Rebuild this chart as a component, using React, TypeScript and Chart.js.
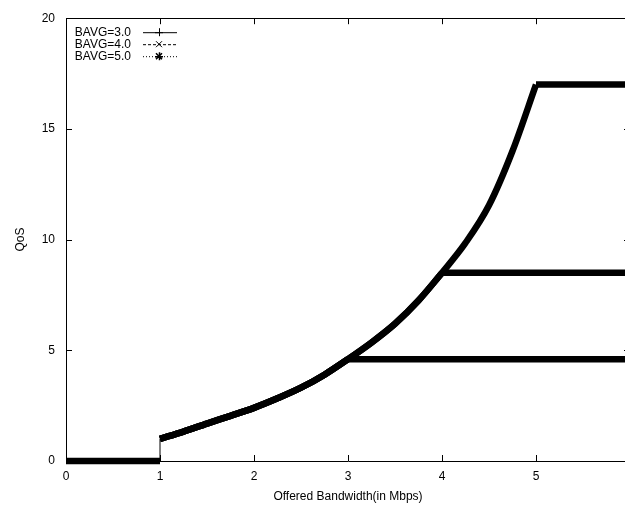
import React, { useEffect, useRef } from "react";
import { Chart, registerables } from "chart.js";

Chart.register(...registerables);

// ---- data ----
const seriesLabels = ["BAVG=3.0", "BAVG=4.0", "BAVG=5.0"];
const capBandwidth = [3, 4, 5];
const capQoS = [4.6, 8.5, 17.0];
const bandwidthEnd = 6;
const floorBandwidth = [0, 1, 1];
const floorQoS = [0, 0, 1.0];
const curveBandwidth = [1, 1.25, 1.5, 1.75, 2, 2.25, 2.5, 2.75, 3, 3.25, 3.5, 3.75, 4, 4.25, 4.5, 4.75, 5];
const curveQoS = [1.0, 1.33, 1.69, 2.04, 2.4, 2.83, 3.31, 3.9, 4.6, 5.35, 6.2, 7.25, 8.5, 9.85, 11.55, 14.0, 17.0];
const xTicks = [0, 1, 2, 3, 4, 5, 6];
const yTicks = [0, 5, 10, 15, 20];

const FONT = "'Liberation Sans', Arial, sans-serif";
const LW = 6.5;

const framePlugin = {
  id: "gnuFrame",
  afterDatasetsDraw(chart: any) {
    const ctx = chart.ctx;
    const { left, right, top, bottom } = chart.chartArea;
    const xs = chart.scales.x;
    const ys = chart.scales.y;
    ctx.save();
    ctx.strokeStyle = "#000";
    ctx.lineWidth = 1;
    ctx.beginPath();
    ctx.rect(Math.round(left) + 0.5, Math.round(top) + 0.5, Math.round(right - left), Math.round(bottom - top));
    xTicks.forEach((v) => {
      const px = Math.round(xs.getPixelForValue(v)) + 0.5;
      ctx.moveTo(px, bottom);
      ctx.lineTo(px, bottom - 6);
      ctx.moveTo(px, top);
      ctx.lineTo(px, top + 6);
    });
    yTicks.forEach((v) => {
      const py = Math.round(ys.getPixelForValue(v)) + 0.5;
      ctx.moveTo(left, py);
      ctx.lineTo(left + 6, py);
      ctx.moveTo(right, py);
      ctx.lineTo(right - 6, py);
    });
    ctx.stroke();
    ctx.restore();
  },
};

const legendPlugin = {
  id: "gnuLegend",
  afterDraw(chart: any) {
    const ctx = chart.ctx;
    const { left, top } = chart.chartArea;
    ctx.save();
    ctx.font = `12px ${FONT}`;
    ctx.fillStyle = "#000";
    ctx.strokeStyle = "#000";
    ctx.textAlign = "right";
    ctx.textBaseline = "middle";
    const dashes = [[], [3, 2], [1, 2]];
    seriesLabels.forEach((lab, i) => {
      const y = top + 14 + i * 12;
      ctx.fillText(lab, left + 65, y);
      ctx.lineWidth = 1;
      ctx.setLineDash(dashes[i]);
      ctx.beginPath();
      ctx.moveTo(left + 77, y + 0.5);
      ctx.lineTo(left + 111, y + 0.5);
      ctx.stroke();
      ctx.setLineDash([]);
      const mx = left + 93;
      const s = 4;
      ctx.beginPath();
      if (i === 0 || i === 2) {
        ctx.moveTo(mx - s, y + 0.5);
        ctx.lineTo(mx + s, y + 0.5);
        ctx.moveTo(mx + 0.5, y - s);
        ctx.lineTo(mx + 0.5, y + s);
      }
      if (i === 1 || i === 2) {
        ctx.moveTo(mx - 3, y - 3);
        ctx.lineTo(mx + 3, y + 3);
        ctx.moveTo(mx + 3, y - 3);
        ctx.lineTo(mx - 3, y + 3);
      }
      ctx.lineWidth = i === 2 ? 1.5 : 1;
      ctx.stroke();
    });
    ctx.restore();
  },
};

export default function App() {
  const ref = useRef<HTMLCanvasElement | null>(null);

  useEffect(() => {
    if (!ref.current) return;
    Chart.defaults.font.family = FONT;
    Chart.defaults.font.size = 12;
    Chart.defaults.color = "#000";

    const datasets: any[] = [];
    datasets.push({
      label: "floor",
      data: floorBandwidth.map((x, i) => ({ x, y: floorQoS[i] })),
      borderColor: "#000",
      borderWidth: LW,
      segment: {
        borderWidth: (c: any) => (c.p0.parsed.x === c.p1.parsed.x ? 1 : LW),
      },
      pointRadius: 0,
      tension: 0,
      clip: 10,
    });
    seriesLabels.forEach((lab, s) => {
      const pts = curveBandwidth
        .map((x, i) => ({ x, y: curveQoS[i] }))
        .filter((p) => p.x <= capBandwidth[s]);
      datasets.push({
        label: lab,
        data: pts,
        borderColor: "#000",
        borderWidth: LW,
        pointRadius: 0,
        cubicInterpolationMode: "monotone",
        clip: 10,
      });
      datasets.push({
        label: lab + " cap",
        data: [
          { x: capBandwidth[s], y: capQoS[s] },
          { x: bandwidthEnd, y: capQoS[s] },
        ],
        borderColor: "#000",
        borderWidth: LW,
        pointRadius: 0,
        clip: 10,
      });
    });

    const chart = new Chart(ref.current, {
      type: "line",
      data: { datasets },
      options: {
        animation: false,
        responsive: false,
        devicePixelRatio: 1,
        layout: { padding: { top: 12, right: 10, left: 0, bottom: 0 } },
        plugins: { legend: { display: false }, tooltip: { enabled: false } },
        scales: {
          x: {
            type: "linear",
            min: 0,
            max: 6,
            afterFit: (s: any) => {
              s.height = 44;
            },
            afterBuildTicks: (s: any) => {
              s.ticks = xTicks.map((v) => ({ value: v }));
            },
            ticks: {
              padding: 8,
              callback: (v: any) => (v === 6 ? "" : String(v)),
              font: { size: 12 },
              maxRotation: 0,
            },
            grid: { display: false, drawTicks: false },
            border: { display: false },
            title: {
              display: true,
              text: "Offered Bandwidth(in Mbps)",
              font: { size: 12 },
              padding: { top: 0, bottom: 1 },
            },
          },
          y: {
            type: "linear",
            min: 0,
            max: 20,
            afterFit: (s: any) => {
              s.width = 66;
            },
            afterBuildTicks: (s: any) => {
              s.ticks = yTicks.map((v) => ({ value: v }));
            },
            ticks: { padding: 11, font: { size: 12 } },
            grid: { display: false, drawTicks: false },
            border: { display: false },
            title: {
              display: true,
              text: "QoS",
              font: { size: 12 },
              padding: { top: 13, bottom: 0 },
            },
          },
        },
      },
      plugins: [framePlugin, legendPlugin],
    });
    return () => chart.destroy();
  }, []);

  return (
    <div
      style={{
        position: "absolute",
        left: 0,
        top: 0,
        width: 625,
        height: 505,
        overflow: "hidden",
        background: "#fff",
      }}
    >
      <canvas ref={ref} width={640} height={505} style={{ display: "block" }} />
    </div>
  );
}
